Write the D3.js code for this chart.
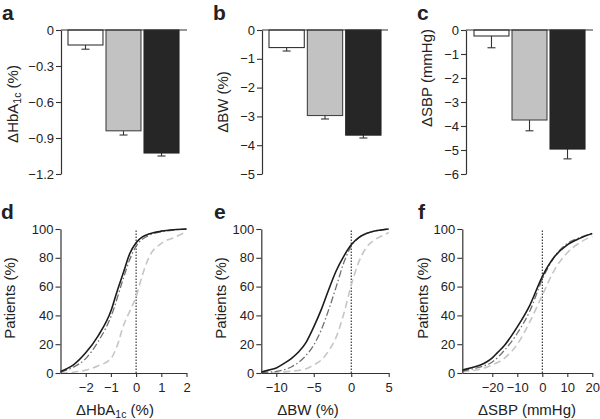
<!DOCTYPE html>
<html><head><meta charset="utf-8">
<script src="https://cdn.jsdelivr.net/npm/d3@7"></script>
<style>
html,body{margin:0;padding:0;background:#fff;}
text{font-family:"Liberation Sans",Arial,Helvetica,sans-serif;fill:#222;}
</style></head>
<body><svg id="c" width="600" height="419"></svg>
<script>
// ---- Data ----
const groups = ["Placebo", "Dose A", "Dose B"];
const hba1cMean = [-0.125, -0.84, -1.025];
const hba1cErr = [0.035, 0.035, 0.025];
const bwMean = [-0.61, -2.97, -3.65];
const bwErr = [0.12, 0.12, 0.1];
const sbpMean = [-0.25, -3.75, -4.96];
const sbpErr = [0.49, 0.45, 0.41];
const hba1cBarTicks = [0, -0.3, -0.6, -0.9, -1.2];
const bwBarTicks = [0, -1, -2, -3, -4, -5];
const sbpBarTicks = [0, -1, -2, -3, -4, -5, -6];

const patientTicks = [0, 20, 40, 60, 80, 100];
const hbCdfTicks = [-2, -1, 0, 1, 2];
const bwCdfTicks = [-10, -5, 0, 5];
const sbpCdfTicks = [-20, -10, 0, 10, 20];

const hbSolidX = [-3, -2.75, -2.5, -2, -1.5, -1, -0.75, -0.5, -0.25, 0, 0.25, 0.5, 1, 1.5, 2];
const hbSolidY = [1, 3, 5.5, 14, 26, 43, 57, 70, 83, 90.5, 94.5, 96.5, 98.5, 99.5, 100];
const hbDashDotX = [-3, -2.5, -2, -1.5, -1, -0.5, -0.25, 0, 0.5, 1, 1.5, 2];
const hbDashDotY = [0.5, 4, 10, 22, 39, 66, 79, 88, 95.5, 98, 99.3, 100];
const hbDashX = [-3, -2.5, -2, -1.5, -1, -0.75, -0.5, -0.25, 0, 0.25, 0.5, 1, 1.5, 2];
const hbDashY = [0, 0.5, 2, 5, 10, 19, 33, 43, 53, 68, 80, 90, 94, 98];

const bwSolidX = [-12, -11, -10, -9, -8, -7, -6, -5, -4, -3, -2, -1, 0, 1, 2, 3, 4, 5];
const bwSolidY = [0.7, 2, 3.5, 6.5, 10, 14.7, 21.5, 32, 44, 58, 71, 81, 89, 94, 96.8, 98.5, 99.3, 100];
const bwDashDotX = [-12, -10, -8, -7, -6, -5, -4, -3, -2, -1, 0, 1, 2, 3, 4, 5];
const bwDashDotY = [0.3, 1.2, 4.2, 7.5, 12.4, 19.4, 30, 44, 60, 76.5, 88, 94, 96.8, 98.5, 99.3, 100];
const bwDashX = [-12, -10, -8, -6, -5, -4, -3, -2, -1, 0, 1, 2, 3, 4, 5];
const bwDashY = [0, 0.3, 1.2, 3, 5.6, 9, 15.5, 25, 41, 61, 77, 87, 92, 95, 97.5];

const sbpSolidX = [-32, -28, -25, -22, -20, -18, -15, -10, -5, 0, 5, 10, 15, 20];
const sbpSolidY = [2, 3.8, 5.4, 8, 10.5, 14, 19.5, 32, 47, 67, 81, 89, 93.5, 96.8];
const sbpDashDotX = [-32, -30, -25, -20, -15, -10, -5, 0, 5, 10, 15, 20];
const sbpDashDotY = [1.2, 2, 4, 7.7, 16, 27.6, 43, 65, 81, 90, 94, 97];
const sbpDashX = [-32, -30, -25, -20, -15, -10, -5, 0, 5, 10, 15, 20];
const sbpDashY = [0.8, 1.2, 2.6, 5.6, 10.5, 20, 35.5, 54, 72, 83.5, 90.5, 95];

// ---- Drawing ----
const svg = d3.select("#c");
svg.append("rect").attr("width", 600).attr("height", 419).attr("fill", "#fff");
const AX = "#333";
const fmt = d => d === 0 ? "0" : String(d).replace("-", "\u2212");

function styleAxis(g) {
  g.selectAll("path.domain").attr("stroke", AX).attr("stroke-width", 1.2);
  g.selectAll(".tick line").attr("stroke", AX).attr("stroke-width", 1.1);
  g.selectAll(".tick text").style("font-family", '"Liberation Sans",Arial,sans-serif').style("font-size", "13px").attr("fill", "#222");
}

function panelLetter(t, x, y) {
  svg.append("text").attr("x", x).attr("y", y).text(t)
    .style("font-size", "21px").style("font-weight", "bold").attr("fill", "#111");
}

function addParts(t, parts) {
  parts.forEach(p => {
    const s = t.append("tspan").text(p.t);
    if (p.sub) s.style("font-size", "10.5px").attr("baseline-shift", "-3");
  });
}
function yLabel(x, y, parts) {
  const t = svg.append("text").attr("transform", `translate(${x},${y}) rotate(-90)`)
    .attr("text-anchor", "middle").style("font-size", "15px");
  addParts(t, parts);
}
function xLabel(x, y, parts) {
  const t = svg.append("text").attr("x", x).attr("y", y)
    .attr("text-anchor", "middle").style("font-size", "15px");
  addParts(t, parts);
}

const barFill = ["#ffffff", "#c2c2c2", "#262626"];
const barStroke = ["#333", "#444", "#222"];

function barPanel(cfg) {
  const y = d3.scaleLinear().domain([0, cfg.ticks[cfg.ticks.length - 1]]).range([30, 174]);
  const x = d3.scaleBand().domain(groups).range(cfg.bars).paddingInner(0.08);
  groups.forEach((g, i) => {
    const cx = x(g) + x.bandwidth() / 2;
    const v = cfg.mean[i], e = cfg.err[i];
    svg.append("line").attr("x1", cx).attr("x2", cx).attr("y1", y(v)).attr("y2", y(v - e))
      .attr("stroke", "#333").attr("stroke-width", 1.1);
    svg.append("line").attr("x1", cx - 4).attr("x2", cx + 4).attr("y1", y(v - e)).attr("y2", y(v - e))
      .attr("stroke", "#333").attr("stroke-width", 1.1);
  });
  svg.selectAll(null).data(groups).enter().append("rect")
    .attr("x", d => x(d)).attr("width", x.bandwidth())
    .attr("y", y(0)).attr("height", (d, i) => y(cfg.mean[i]) - y(0))
    .attr("fill", (d, i) => barFill[i]).attr("stroke", (d, i) => barStroke[i]).attr("stroke-width", 1.1);
  svg.append("line").attr("x1", cfg.ax).attr("x2", cfg.end).attr("y1", y(0)).attr("y2", y(0))
    .attr("stroke", AX).attr("stroke-width", 1.2);
  const ga = svg.append("g").attr("transform", `translate(${cfg.ax},0)`)
    .call(d3.axisLeft(y).tickValues(cfg.ticks).tickFormat(fmt).tickSize(5).tickSizeOuter(0).tickPadding(2));
  styleAxis(ga);
}

function cdfPanel(cfg) {
  const x = d3.scaleLinear().domain(cfg.xdom).range([cfg.ax, cfg.end]);
  const y = d3.scaleLinear().domain([0, 100]).range([373, 229]);
  const line = d3.line().x(d => x(d[0])).y(d => y(d[1])).curve(d3.curveMonotoneX);
  svg.append("line").attr("x1", x(0)).attr("x2", x(0)).attr("y1", y(0)).attr("y2", y(100))
    .attr("stroke", "#111").attr("stroke-width", 1).attr("stroke-dasharray", "1.5,1.5");
  const series = [
    {xs: cfg.dash[0], ys: cfg.dash[1], c: "#c6c6c6", w: 1.6, da: "7,4"},
    {xs: cfg.dd[0], ys: cfg.dd[1], c: "#707070", w: 1.3, da: "7,2.5,1.5,2.5"},
    {xs: cfg.solid[0], ys: cfg.solid[1], c: "#1c1c1c", w: 1.6, da: null}
  ];
  series.forEach(s => {
    const pts = s.xs.map((v, i) => [v, s.ys[i]]);
    const p = svg.append("path").attr("d", line(pts)).attr("fill", "none")
      .attr("stroke", s.c).attr("stroke-width", s.w);
    if (s.da) p.attr("stroke-dasharray", s.da);
  });
  const gy = svg.append("g").attr("transform", `translate(${cfg.ax},0)`)
    .call(d3.axisLeft(y).tickValues(patientTicks).tickSize(5).tickSizeOuter(0).tickPadding(2));
  styleAxis(gy);
  const gx = svg.append("g").attr("transform", `translate(0,${y(0)})`)
    .call(d3.axisBottom(x).tickValues(cfg.ticks).tickFormat(fmt).tickSize(4).tickSizeOuter(0).tickPadding(6));
  styleAxis(gx);
}

barPanel({mean: hba1cMean, err: hba1cErr, ticks: hba1cBarTicks, ax: 61, end: 187, bars: [68, 179]});
barPanel({mean: bwMean, err: bwErr, ticks: bwBarTicks, ax: 262, end: 388, bars: [269, 381]});
barPanel({mean: sbpMean, err: sbpErr, ticks: sbpBarTicks, ax: 466, end: 593, bars: [474, 585]});

cdfPanel({xdom: [-3, 2], ax: 60.5, end: 186.5, ticks: hbCdfTicks,
  solid: [hbSolidX, hbSolidY], dd: [hbDashDotX, hbDashDotY], dash: [hbDashX, hbDashY]});
cdfPanel({xdom: [-12, 5], ax: 261.3, end: 388.7, ticks: bwCdfTicks,
  solid: [bwSolidX, bwSolidY], dd: [bwDashDotX, bwDashDotY], dash: [bwDashX, bwDashY]});
cdfPanel({xdom: [-32, 20], ax: 462.3, end: 592.3, ticks: sbpCdfTicks,
  solid: [sbpSolidX, sbpSolidY], dd: [sbpDashDotX, sbpDashDotY], dash: [sbpDashX, sbpDashY]});

panelLetter("a", 2, 20);
panelLetter("b", 213, 20);
panelLetter("c", 417, 20);
panelLetter("d", 1, 219);
panelLetter("e", 214, 219);
panelLetter("f", 418, 219);

yLabel(18, 104, [{t: "\u0394HbA"}, {t: "1c", sub: true}, {t: " (%)"}]);
yLabel(228, 102, [{t: "\u0394BW (%)"}]);
yLabel(432, 78, [{t: "\u0394SBP (mmHg)"}]);
yLabel(15, 298, [{t: "Patients (%)"}]);
yLabel(226, 298, [{t: "Patients (%)"}]);
yLabel(428, 298, [{t: "Patients (%)"}]);

xLabel(115, 415, [{t: "\u0394HbA"}, {t: "1c", sub: true}, {t: " (%)"}]);
xLabel(308, 415, [{t: "\u0394BW (%)"}]);
xLabel(527, 415, [{t: "\u0394SBP (mmHg)"}]);
</script></body></html>
